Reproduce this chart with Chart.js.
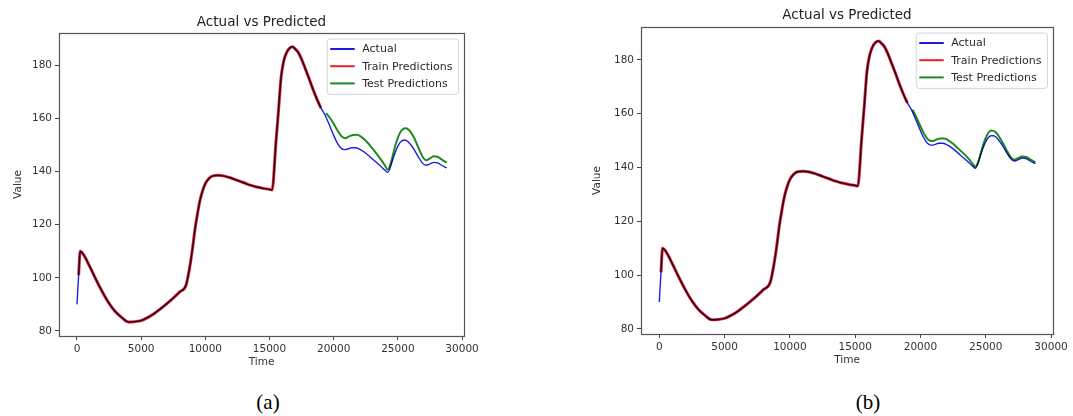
<!DOCTYPE html>
<html>
<head>
<meta charset="utf-8">
<title>Actual vs Predicted</title>
<script src="https://cdn.jsdelivr.net/npm/chart.js@4/dist/chart.umd.min.js"></script>
<style>
  html, body { margin: 0; padding: 0; background: #fff; width: 1073px; height: 416px; overflow: hidden; }
  .panel { position: absolute; top: 0; }
  .caption { position: absolute; font-family: "Liberation Serif", "Times New Roman", serif; font-size: 21px;
             line-height: 21px; color: #000; transform: translateX(-50%); white-space: nowrap; }
</style>
</head>
<body>
<canvas id="chartA" class="panel" style="left:0px" width="540" height="375"></canvas>
<canvas id="chartB" class="panel" style="left:540px" width="533" height="375"></canvas>
<div class="caption" style="left:268px; top:392px">(a)</div>
<div class="caption" style="left:868px; top:392px">(b)</div>

<script>
// ---------- data ----------
const timeActual = [0, 130, 250, 500, 1000, 1500, 2000, 2500, 3000, 3500, 4000, 4500, 5000, 5500, 6000, 6500,
  7000, 7500, 8000, 8500, 8800, 9000, 9200, 9400, 9600, 9800, 10000, 10300, 10600, 11000, 11500, 12000, 12500,
  13000, 13500, 14000, 14500, 15000, 15200, 15500, 15700, 15900, 16100, 16300, 16500, 16800, 17000, 17250,
  17500, 17800, 18100, 18400, 18700, 19000, 19300, 19600, 19900, 20200, 20500, 20800, 21100, 21400, 21700,
  22000, 22400, 22800, 23200, 23600, 24000, 24200, 24400, 24600, 24800, 25000, 25200, 25400, 25600, 25800,
  26000, 26300, 26600, 26900, 27200, 27500, 27800, 28100, 28400, 28800];
const valueActual = [90, 101, 110, 108.8, 104.2, 99.2, 94.5, 90.4, 87.2, 85.0, 83.4, 83.5, 83.9, 85.0, 86.5, 88.3,
  90.3, 92.4, 94.7, 97.3, 104.5, 111, 118.5, 124.5, 129.5, 133, 135.5, 137.5, 138.4, 138.6, 138.3, 137.6, 136.7,
  135.8, 134.9, 134.2, 133.7, 133.3, 133.1, 151, 163, 175.5, 181.5, 184.5, 186.2, 187, 186.2, 184.8,
  182.3, 178.6, 174.8, 170.8, 167.2, 164.0, 161.5, 158.3, 154.8, 151.5, 149.2, 148.3, 148.5, 149.0, 149.0,
  148.5, 147.3, 145.7, 144.0, 142.3, 140.5, 139.7, 141.5, 144.5, 147.3, 149.6, 151.1, 151.8, 151.8, 151.2,
  150.1, 148.0, 145.5, 143.3, 142.4, 142.9, 143.5, 143.3, 142.4, 141.4];

const timeTrain = [130, 250, 500, 1000, 1500, 2000, 2500, 3000, 3500, 4000, 4500, 5000, 5500, 6000, 6500,
  7000, 7500, 8000, 8500, 8800, 9000, 9200, 9400, 9600, 9800, 10000, 10300, 10600, 11000, 11500, 12000, 12500,
  13000, 13500, 14000, 14500, 15000, 15200, 15500, 15700, 15900, 16100, 16300, 16500, 16800, 17000, 17250,
  17500, 17800, 18100, 18400, 18700, 19000];
const valueTrain = [101, 110, 108.8, 104.2, 99.2, 94.5, 90.4, 87.2, 85.0, 83.4, 83.5, 83.9, 85.0, 86.5, 88.3,
  90.3, 92.4, 94.7, 97.3, 104.5, 111, 118.5, 124.5, 129.5, 133, 135.5, 137.5, 138.4, 138.6, 138.3, 137.6, 136.7,
  135.8, 134.9, 134.2, 133.7, 133.3, 133.1, 151, 163, 175.5, 181.5, 184.5, 186.2, 187, 186.2, 184.8,
  182.3, 178.6, 174.8, 170.8, 167.2, 164.0];

const timeTest = [19400, 19700, 20000, 20300, 20600, 20900, 21200, 21500, 21800, 22100, 22500, 22900, 23300,
  23700, 24000, 24200, 24400, 24600, 24800, 25000, 25200, 25400, 25600, 25800, 26000, 26300, 26600, 26900,
  27200, 27500, 27800, 28100, 28400, 28800];
// model (a)
const valueTestA = [162.0, 160.3, 158.0, 155.5, 153.3, 152.6, 153.3, 153.8, 153.9, 153.3, 151.6, 149.4, 147.0,
  144.4, 142.2, 140.7, 142.5, 146.0, 149.8, 152.8, 154.9, 156.0, 156.3, 155.9, 154.9, 152.4, 149.0, 145.8,
  144.3, 145.0, 145.8, 145.6, 144.6, 143.4];
// model (b)
const valueTestB = [161.5, 158.5, 155.3, 152.3, 150.3, 149.8, 150.3, 150.8, 150.8, 150.2, 148.8, 147.0, 145.2,
  143.2, 141.3, 140.3, 141.8, 145.0, 148.4, 151.0, 152.9, 153.7, 153.6, 152.9, 151.6, 149.2, 146.4, 143.9,
  142.9, 143.5, 144.1, 143.9, 143.0, 141.9];

const seriesLabels = ['Actual', 'Train Predictions', 'Test Predictions'];
const seriesColors = ['#1c1ce0', '#e8202a', '#1f8a1f'];
const chartTitle = 'Actual vs Predicted';
const xAxisTitle = 'Time';
const yAxisTitle = 'Value';
const xLimits = [-1400, 30150];
const yLimits = [78.1, 192.2];
const xTickValues = [0, 5000, 10000, 15000, 20000, 25000, 30000];
const yTickValues = [80, 100, 120, 140, 160, 180];

// ---------- drawing ----------
const FONT = '"DejaVu Sans", Verdana, sans-serif';
const xy = (xs, ys) => xs.map((x, i) => ({ x, y: ys[i] }));

// overlapping lines darken each other, and the axes frame goes on top of them
const framePlugin = {
  id: 'axesFrame',
  beforeDatasetsDraw(chart) {
    chart.ctx.save();
    chart.ctx.globalCompositeOperation = 'multiply';
  },
  afterDatasetsDraw(chart, args, opts) {
    const ctx = chart.ctx;
    ctx.restore();
    const a = chart.chartArea;
    ctx.save();
    ctx.strokeStyle = opts.color;
    ctx.lineWidth = opts.width;
    ctx.strokeRect(Math.round(a.left) + 0.5, Math.round(a.top) + 0.5,
                   Math.round(a.right - a.left), Math.round(a.bottom - a.top));
    ctx.restore();
  }
};

// framed legend in the upper-right corner of the plot area
const boxLegend = {
  id: 'boxLegend',
  afterDraw(chart, args, o) {
    const ctx = chart.ctx, a = chart.chartArea;
    const items = chart.data.datasets;
    ctx.save();
    ctx.font = `${o.fontSize}px ${FONT}`;
    const tw = Math.max(...items.map(d => ctx.measureText(d.label).width));
    const w = o.padLeft + o.handle + o.gap + tw + o.padRight;
    const h = 2 * o.edge + (items.length - 1) * o.row;
    const x0 = a.right - o.insetRight - w;
    const y0 = a.top + o.insetTop;
    ctx.beginPath();
    if (ctx.roundRect) ctx.roundRect(x0 + 0.5, y0 + 0.5, w, h, 3); else ctx.rect(x0 + 0.5, y0 + 0.5, w, h);
    ctx.fillStyle = 'rgba(255,255,255,0.85)';
    ctx.fill();
    ctx.strokeStyle = '#d4d4d4';
    ctx.lineWidth = 1;
    ctx.stroke();
    ctx.textBaseline = 'middle';
    ctx.textAlign = 'left';
    items.forEach((d, i) => {
      const cy = y0 + o.edge + i * o.row;
      ctx.strokeStyle = d.borderColor;
      ctx.lineWidth = 2;
      ctx.beginPath();
      ctx.moveTo(x0 + o.padLeft, cy);
      ctx.lineTo(x0 + o.padLeft + o.handle, cy);
      ctx.stroke();
      ctx.fillStyle = '#2a2a2a';
      ctx.fillText(d.label, x0 + o.padLeft + o.handle + o.gap, cy + 0.5);
    });
    ctx.restore();
  }
};

function buildChart(id, testValues, g) {
  const tickFont = { family: FONT, size: 10.5 };
  const axisFont = { family: FONT, size: 10.5, lineHeight: 1.2 };
  const titleFontSize = 13.5, titleLH = titleFontSize * 1.2;
  const titleTop = g.titleY - titleLH / 2;
  const tickGrid = { display: true, drawOnChartArea: false, drawTicks: true, tickLength: 4, color: '#444', lineWidth: 1 };

  return new Chart(document.getElementById(id), {
    type: 'line',
    data: {
      datasets: [
        { label: seriesLabels[0], data: xy(timeActual, valueActual), borderColor: seriesColors[0], borderWidth: 1.4, order: 3 },
        { label: seriesLabels[1], data: xy(timeTrain, valueTrain), borderColor: seriesColors[1], borderWidth: 3.0, order: 2 },
        { label: seriesLabels[2], data: xy(timeTest, testValues), borderColor: seriesColors[2], borderWidth: 2.0, order: 1 }
      ]
    },
    options: {
      responsive: false,
      animation: false,
      events: [],
      layout: { autoPadding: false, padding: { left: 0, right: g.W - g.R, top: 0, bottom: 0 } },
      elements: {
        point: { radius: 0 },
        line: { cubicInterpolationMode: 'monotone', fill: false, borderJoinStyle: 'round', borderCapStyle: 'butt' }
      },
      scales: {
        x: {
          type: 'linear', min: xLimits[0], max: xLimits[1],
          afterBuildTicks: s => { s.ticks = xTickValues.map(v => ({ value: v })); },
          afterFit: s => { s.height = g.H - g.B; },
          ticks: { color: '#333', font: tickFont, padding: 3, maxRotation: 0, autoSkip: false,
                   callback: v => String(v) },
          grid: tickGrid,
          border: { display: false },
          title: { display: true, text: xAxisTitle, color: '#333', font: axisFont,
                   padding: { top: 0, bottom: g.H - g.xTitleY - 6.3 } }
        },
        y: {
          type: 'linear', min: yLimits[0], max: yLimits[1],
          afterBuildTicks: s => { s.ticks = yTickValues.map(v => ({ value: v })); },
          afterFit: s => { s.width = g.L; },
          ticks: { color: '#333', font: tickFont, padding: 3, autoSkip: false, callback: v => String(v) },
          grid: tickGrid,
          border: { display: false },
          title: { display: true, text: yAxisTitle, color: '#333', font: axisFont,
                   padding: { top: g.yTitleX - 6.3, bottom: 0 } }
        }
      },
      plugins: {
        legend: { display: false },
        tooltip: { enabled: false },
        title: {
          display: true, text: chartTitle, fullSize: false, color: '#222',
          font: { family: FONT, size: titleFontSize, weight: 'normal', lineHeight: 1.2 },
          padding: { top: titleTop, bottom: g.T - titleTop - titleLH }
        },
        axesFrame: { color: '#555', width: 1.2 },
        boxLegend: { fontSize: 11, padLeft: 3.5, handle: 24.5, gap: 7.5, padRight: 5.5,
                     edge: 10.5, row: 17.2, insetRight: 6, insetTop: 5.5 }
      }
    },
    plugins: [framePlugin, boxLegend]
  });
}

buildChart('chartA', valueTestA, { W: 540, H: 375, L: 59, R: 464, T: 33, B: 336, titleY: 22, yTitleX: 18.3, xTitleY: 362 });
buildChart('chartB', valueTestB, { W: 533, H: 375, L: 101, R: 513, T: 27, B: 334, titleY: 15.2, yTitleX: 57.5, xTitleY: 360 });
</script>
</body>
</html>
